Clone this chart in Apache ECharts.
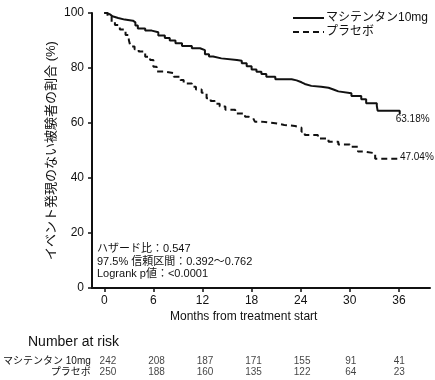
<!DOCTYPE html>
<html>
<head>
<meta charset="utf-8">
<script src="https://cdn.jsdelivr.net/npm/echarts@6/dist/echarts.min.js"></script>
<style>html,body{margin:0;padding:0;background:#fff}#c{width:435px;height:380px}</style>
</head>
<body>
<div id="c"></div>
<script>
// ---- data ----
const seriesNames = ['マシテンタン10mg', 'プラセボ'];
const riskRowNames = ['マシテンタン 10mg', 'プラセボ'];
const xTicks = [0, 6, 12, 18, 24, 30, 36];
const yTicks = [0, 20, 40, 60, 80, 100];
const macitentanKM = [
  [0,100],[0.3,99.5],[0.7,98.8],[1.0,98.2],[1.7,97.6],[2.5,97.2],[3.5,96.6],[3.8,95.5],[4.1,94.4],
  [5.0,93.6],[5.8,93.0],[6.6,91.8],[7.4,90.9],[8.0,90.0],[8.7,89.0],[9.5,88.0],[10.7,87.2],[11.7,86.5],
  [12.3,85.0],[12.8,84.2],[13.3,83.5],[14.3,82.9],[16.2,82.6],[16.8,81.7],[17.4,80.6],[18.0,79.5],
  [18.6,78.6],[19.2,77.8],[19.8,76.8],[20.9,75.9],[22.9,75.5],[23.5,74.8],[24.1,74.2],[24.5,73.5],
  [25.3,73.2],[26.5,72.8],[27.4,72.2],[28.0,71.5],[28.6,70.8],[30.2,69.8],[31.4,68.6],[32.0,67.2],
  [33.3,66.2],[33.4,64.5],[36.1,63.18]
];
const placeboKM = [
  [0,100],[0.4,98.8],[0.9,96.8],[1.3,95.6],[1.9,94.0],[2.6,92.0],[3.0,90.2],[3.2,87.8],[3.7,86.8],
  [4.2,86.0],[5.0,84.1],[5.6,82.9],[6.0,80.5],[6.4,78.7],[7.4,78.1],[8.5,76.8],[9.3,75.6],[9.7,74.4],
  [10.7,73.2],[11.2,72.2],[11.9,71.0],[12.5,69.0],[13.0,68.0],[13.5,67.0],[14.1,66.0],[14.8,64.8],
  [16.0,63.5],[17.2,62.3],[17.6,61.7],[18.2,61.0],[18.4,60.5],[19.2,59.9],[20.9,59.3],[22.0,58.9],
  [23.3,58.3],[24.1,56.8],[24.5,55.6],[26.1,54.4],[27.4,53.2],[28.6,52.2],[30.0,51.4],[31.0,49.6],
  [31.8,49.0],[33.1,47.04],[36.0,47.04]
];
const riskMacitentan = [242, 208, 187, 171, 155, 91, 41];
const riskPlacebo = [250, 188, 160, 135, 122, 64, 23];
const annotationLines = ['ハザード比：0.547', '97.5% 信頼区間：0.392〜0.762', 'Logrank p値：<0.0001'];
const yAxisTitle = 'イベント発現のない被験者の割合 (%)';
const xAxisTitle = 'Months from treatment start';
const riskTitle = 'Number at risk';

// ---- chart ----
const FONT = "'Liberation Sans', Arial, 'Noto Sans CJK JP', sans-serif";
const INK = '#111';
const chart = echarts.init(document.getElementById('c'), null, {renderer: 'canvas'});

const riskData = [];
xTicks.forEach((t, i) => {
  riskData.push([t, 0, riskMacitentan[i]]);
  riskData.push([t, 1, riskPlacebo[i]]);
});

const lastM = macitentanKM[macitentanKM.length - 1][1];
const lastP = placeboKM[placeboKM.length - 1][1];

chart.setOption({
  animation: false,
  textStyle: {fontFamily: FONT, color: INK},
  grid: [
    {left: 92, right: 5, top: 13, bottom: 92},
    {left: 92, right: 5, top: 356, height: 21}
  ],
  legend: {
    data: seriesNames,
    orient: 'vertical',
    left: 292, top: 12, padding: 0,
    itemWidth: 31, itemHeight: 12, itemGap: 2,
    itemStyle: {opacity: 0},
    textStyle: {fontSize: 12, color: INK, fontFamily: FONT, padding: [0,0,0,-3]}
  },
  xAxis: [
    {
      type: 'value', gridIndex: 0, min: -1.5, max: 39.8,
      axisLine: {onZero: false, lineStyle: {color: INK, width: 2}},
      axisTick: {show: true, length: 4, lineStyle: {color: INK, width: 1.5}, customValues: xTicks},
      axisLabel: {fontSize: 12, color: INK, margin: 7, customValues: xTicks, fontFamily: FONT},
      splitLine: {show: false}
    },
    {type: 'value', gridIndex: 1, min: -1.5, max: 39.8, show: false}
  ],
  yAxis: [
    {
      type: 'value', gridIndex: 0, min: 0, max: 100, interval: 20,
      name: yAxisTitle, nameLocation: 'middle', nameGap: 34, nameMoveOverlap: false,
      nameTextStyle: {fontSize: 13, color: INK, fontFamily: FONT},
      axisLine: {show: true, onZero: false, lineStyle: {color: INK, width: 2}},
      axisTick: {show: true, length: 4, lineStyle: {color: INK, width: 1.5}},
      axisLabel: {fontSize: 12, color: INK, margin: 8, fontFamily: FONT},
      splitLine: {show: false}
    },
    {
      type: 'category', gridIndex: 1, data: riskRowNames, inverse: true,
      axisLine: {show: false}, axisTick: {show: false},
      axisLabel: {fontSize: 10, color: INK, margin: 5, interval: 0, fontFamily: FONT}
    }
  ],
  series: [
    {
      name: seriesNames[0], type: 'line', step: 'end', symbol: 'none',
      xAxisIndex: 0, yAxisIndex: 0,
      data: macitentanKM,
      lineStyle: {color: INK, width: 2},
      itemStyle: {color: INK},
      endLabel: {show: true, formatter: lastM.toFixed(2) + '%', fontSize: 10, color: INK, fontFamily: FONT, distance: 0, offset: [-4, 5]}
    },
    {
      name: seriesNames[1], type: 'line', step: 'end', symbol: 'none',
      xAxisIndex: 0, yAxisIndex: 0,
      data: placeboKM,
      lineStyle: {color: INK, width: 2, type: [6, 4]},
      itemStyle: {color: INK},
      endLabel: {show: true, formatter: lastP.toFixed(2) + '%', fontSize: 10, color: INK, fontFamily: FONT, distance: 0, offset: [1, -1]}
    },
    {
      type: 'scatter', xAxisIndex: 1, yAxisIndex: 1,
      symbolSize: 1, itemStyle: {color: 'rgba(0,0,0,0)'},
      data: riskData,
      label: {show: true, position: 'inside', fontSize: 10, color: INK, fontFamily: FONT,
        formatter: p => String(p.value[2])}
    }
  ],
  graphic: [
    {type: 'text', left: 170, top: 311, style: {text: xAxisTitle, fill: INK, font: '12px ' + FONT}},
    {type: 'text', left: 28, top: 335, style: {text: riskTitle, fill: INK, font: '14px ' + FONT}},
    {type: 'text', left: 97, top: 243, style: {text: annotationLines[0], fill: INK, font: '11px ' + FONT}},
    {type: 'text', left: 97, top: 256, style: {text: annotationLines[1], fill: INK, font: '11px ' + FONT}},
    {type: 'text', left: 97, top: 268, style: {text: annotationLines[2], fill: INK, font: '11px ' + FONT}}
  ]
});
</script>
</body>
</html>
